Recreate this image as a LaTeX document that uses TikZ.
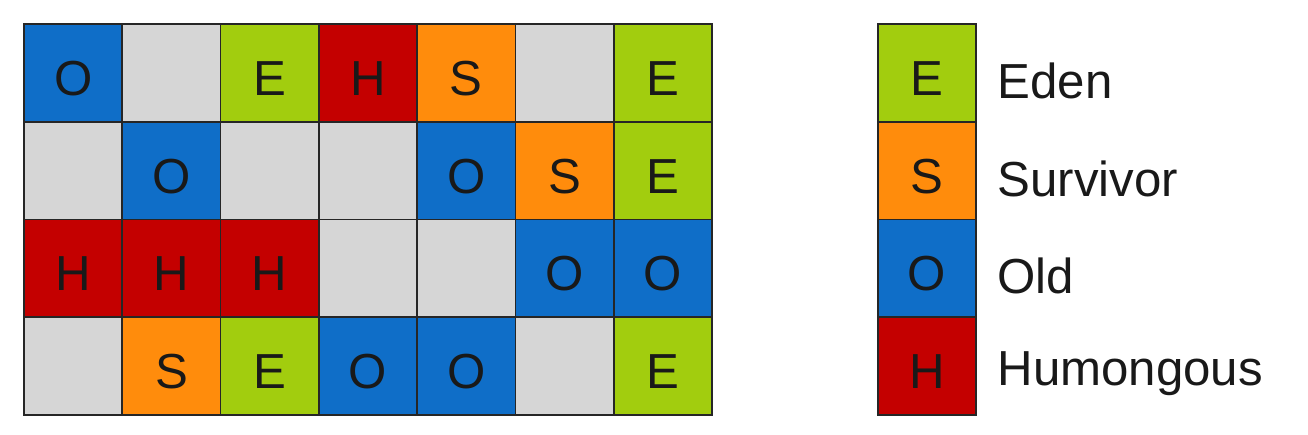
\documentclass[tikz,border=0pt]{standalone}
\usepackage{fontspec}
\setmainfont{Liberation Sans}
\usepackage{tikz}
\usetikzlibrary{positioning}
\definecolor{edenc}{HTML}{A2CD0E}
\definecolor{survc}{HTML}{FF8C0C}
\definecolor{oldc}{HTML}{0F6EC8}
\definecolor{humc}{HTML}{C40000}
\definecolor{freec}{HTML}{D6D6D6}
\def\freekind{F}
\tikzset{
	region/.style={draw=black!85, line width=1pt, minimum width=1.966cm,
		minimum height=1.955cm, inner sep=0pt, outer sep=0pt,
		text height=0.9cm, text depth=0pt,
		font=\fontsize{28}{32}\selectfont, text=black!90},
	E/.style={region, fill=edenc},
	S/.style={region, fill=survc},
	O/.style={region, fill=oldc},
	H/.style={region, fill=humc},
	F/.style={region, fill=freec},
	legtext/.style={font=\fontsize{28}{32}\selectfont, text=black!90,
		anchor=west, inner sep=0pt}
}

\begin{document}
\begin{tikzpicture}
	\useasboundingbox (0,0) rectangle (26.16,8.68);
	% heap regions
	\foreach \r/\row in {1/{O,F,E,H,S,F,E},
			2/{F,O,F,F,O,S,E},
			3/{H,H,H,F,F,O,O},
			4/{F,S,E,O,O,F,E}}
	{
		\foreach \k [count=\c] in \row
		{
			\ifx\k\freekind
				\node [F] (r\r c\c) at ({0.48+(\c-0.5)*1.966},{8.20-(\r-0.5)*1.955}) {};
			\else
				\node [\k] (r\r c\c) at ({0.48+(\c-0.5)*1.966},{8.20-(\r-0.5)*1.955}) {\k};
			\fi
		}
	}
	% legend
	\foreach \k/\name [count=\r] in {E/Eden, S/Survivor, O/Old, H/Humongous}
	{
		\node [\k] (key\k) at (18.54,{8.20-(\r-0.5)*1.955}) {\k};
		\node [legtext, right=0.42cm of key\k, yshift=-0.16cm] (lab\k) {\name};
	}
\end{tikzpicture}
\end{document}
